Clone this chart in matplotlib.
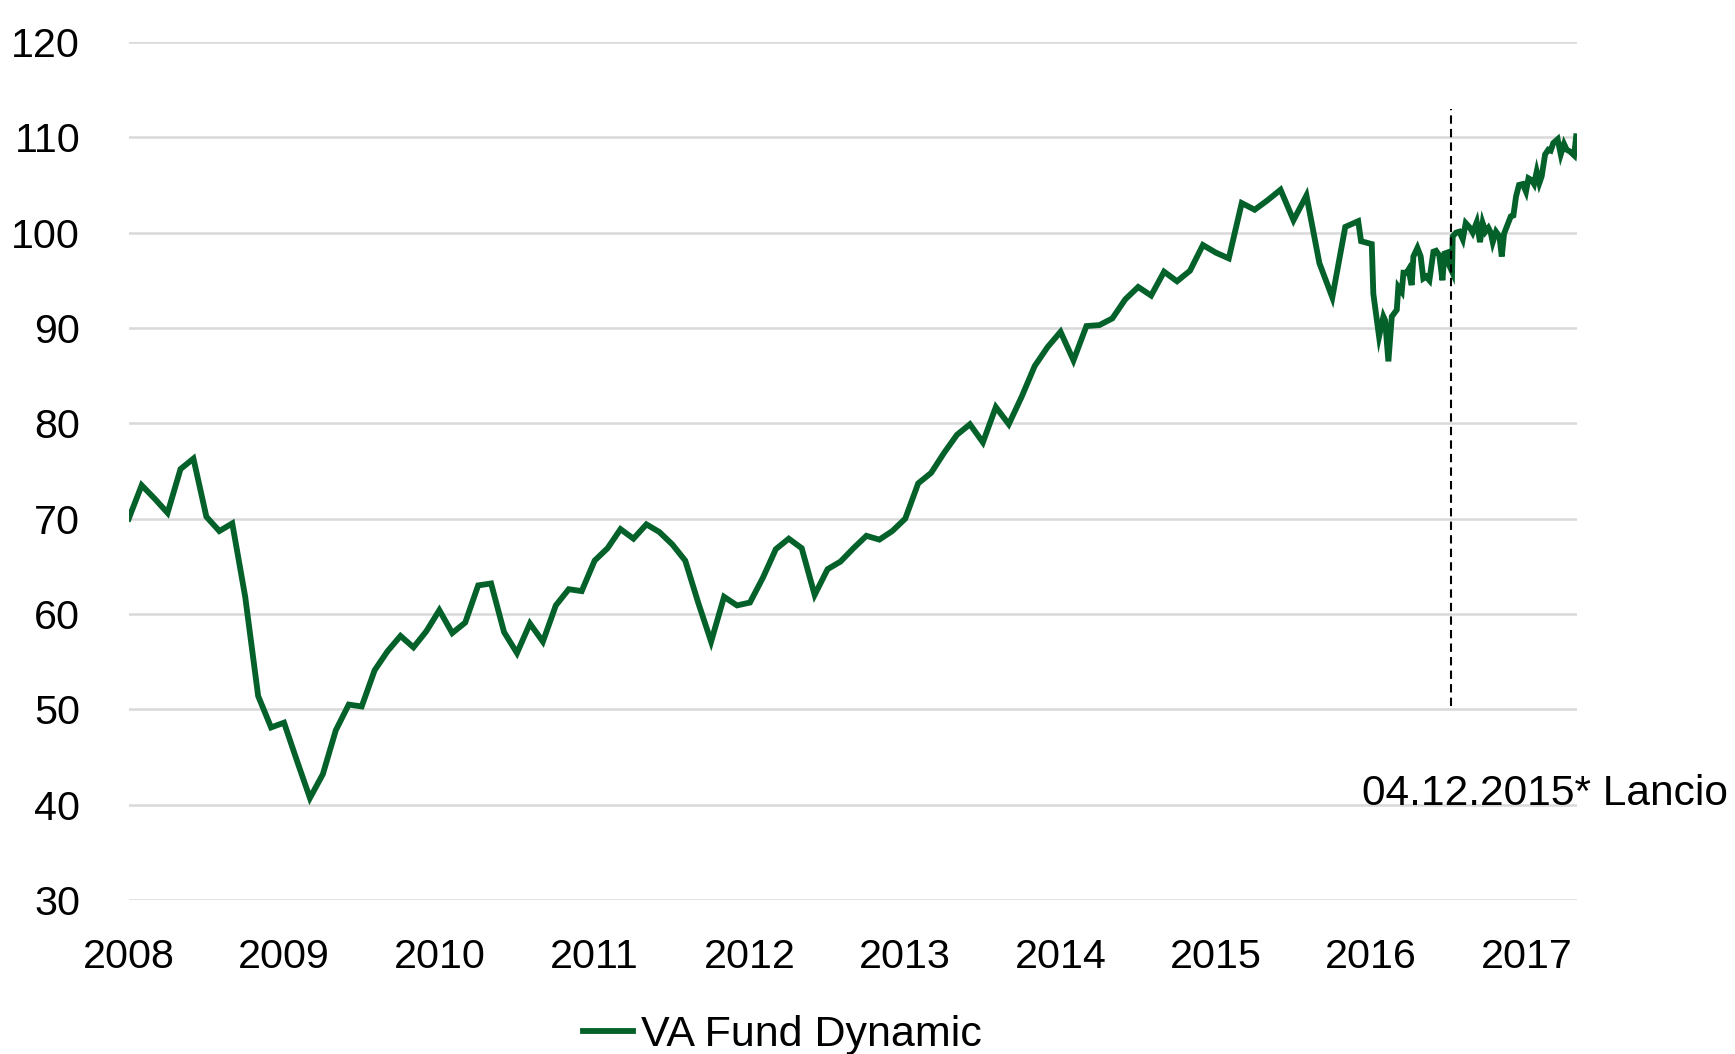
import matplotlib
matplotlib.use("Agg")
import matplotlib.pyplot as plt
import numpy as np

plt.rcParams['font.family'] = ['Liberation Sans', 'DejaVu Sans']

# Monthly values from Jan 2008 (month 0) to Dec 2015 (month 95)
monthly_values = [
    70.0, 73.5, 72.1, 70.6, 75.2, 76.3, 70.2, 68.7, 69.5, 61.8, 51.4, 48.1,
    48.6, 44.6, 40.7, 43.2, 47.8, 50.5, 50.3, 54.1, 56.1, 57.7, 56.5, 58.2,
    60.4, 58.0, 59.1, 63.0, 63.2, 58.1, 55.9, 59.0, 57.1, 60.9, 62.6, 62.4,
    65.6, 66.9, 68.9, 67.9, 69.4, 68.6, 67.3, 65.6, 61.2, 57.1, 61.8, 60.9,
    61.2, 63.8, 66.8, 67.9, 66.9, 62.0, 64.7, 65.5, 66.9, 68.2, 67.8, 68.7,
    70.0, 73.7, 74.8, 76.9, 78.8, 79.9, 78.0, 81.7, 79.9, 82.8, 86.0, 88.0,
    89.6, 86.6, 90.2, 90.3, 91.0, 93.0, 94.3, 93.4, 95.9, 94.9, 96.0, 98.7,
    97.9, 97.3, 103.1, 102.4, 103.4, 104.5, 101.3, 103.9, 96.8, 93.2, 100.6, 101.2,
]
start_year = 2008.0

# Higher-frequency values after Dec 2015 (decimal years)
recent_dates = [
    2015.935, 2016.004, 2016.014, 2016.051, 2016.079, 2016.090, 2016.111, 2016.133,
    2016.165, 2016.175, 2016.197, 2016.208, 2016.229, 2016.240, 2016.261, 2016.272,
    2016.298, 2016.319, 2016.336, 2016.354, 2016.375, 2016.401, 2016.418, 2016.439,
    2016.459, 2016.472, 2016.489, 2016.502, 2016.521, 2016.525, 2016.547, 2016.568,
    2016.590, 2016.609, 2016.637, 2016.654, 2016.680, 2016.701, 2016.718, 2016.736,
    2016.755, 2016.770, 2016.783, 2016.804, 2016.826, 2016.841, 2016.856, 2016.873,
    2016.899, 2016.916, 2016.933, 2016.952, 2016.976, 2016.997, 2017.013, 2017.034,
    2017.049, 2017.066, 2017.083, 2017.098, 2017.120, 2017.141, 2017.156, 2017.173,
    2017.201, 2017.221, 2017.242, 2017.259, 2017.281, 2017.307, 2017.320,
]
recent_values = [
    99.1, 98.8, 93.6, 89.1, 91.2, 90.8, 86.5, 91.2,
    91.9, 94.3, 93.8, 95.8, 95.8, 96.1, 94.5, 97.5,
    98.4, 97.5, 95.2, 95.4, 95.0, 98.0, 98.1, 97.6,
    95.0, 97.8, 97.9, 96.6, 95.9, 99.6, 100.0, 100.1,
    99.3, 101.0, 100.5, 100.0, 101.1, 99.0, 101.0, 100.1,
    100.5, 100.0, 99.0, 100.1, 99.6, 97.5, 99.9, 100.6,
    101.7, 101.8, 103.8, 105.0, 105.1, 104.3, 105.7, 105.5,
    105.1, 106.4, 105.2, 105.9, 108.2, 108.7, 108.6, 109.4,
    109.8, 108.2, 109.3, 108.7, 108.5, 108.1, 110.1,
]

series_label = "VA Fund Dynamic"
year_ticks = [2008, 2009, 2010, 2011, 2012, 2013, 2014, 2015, 2016, 2017]
y_ticks = [30, 40, 50, 60, 70, 80, 90, 100, 110, 120]
launch_x = 2016.515
launch_y_range = (50.4, 113.0)
launch_text = "04.12.2015* Lancio"
launch_text_pos = (2015.942, 40.0)

monthly_x = start_year + np.arange(len(monthly_values)) / 12.0
x = np.concatenate([monthly_x, recent_dates])
y = np.concatenate([monthly_values, recent_values])

green = '#04612A'
fs_tick = 29.7
fs_text = 30.6
fs_leg = 31

fig = plt.figure(figsize=(17.35, 10.54), dpi=100)
ax = fig.add_axes([0.0742, 0.1461, 0.9088 - 0.0742, 0.9602 - 0.1461])

ax.plot(x, y, color=green, lw=4.2, solid_joinstyle='miter', label=series_label, zorder=3)
ax.vlines(launch_x, *launch_y_range, colors='black', linestyles=(0, (4, 2.5)), lw=1.5, zorder=4)
ax.text(launch_text_pos[0], launch_text_pos[1], launch_text, fontsize=fs_text, ha='left',
        va='baseline', clip_on=False, color='black', zorder=5)

ax.set_xlim(2008.0, 2017.324)
ax.set_ylim(30, 120)
ax.set_xticks(year_ticks)
ax.set_xticklabels([str(t) for t in year_ticks])
ax.set_yticks(y_ticks)
ax.set_yticklabels([str(t) for t in y_ticks])
ax.tick_params(axis='both', length=0, labelsize=fs_tick, colors='black')
ax.tick_params(axis='y', pad=35)
ax.tick_params(axis='x', pad=27)
ax.grid(axis='y', color='#d9d9d9', lw=1.8, zorder=0)
ax.grid(axis='x', visible=False)
for s in ax.spines.values():
    s.set_visible(False)

fig.legend(loc='center', bbox_to_anchor=(0.451, 0.018), frameon=False, fontsize=fs_leg,
           handlelength=1.16, handletextpad=0.2, borderpad=0, borderaxespad=0)

fig.savefig('out.png', dpi=100, facecolor='white')
